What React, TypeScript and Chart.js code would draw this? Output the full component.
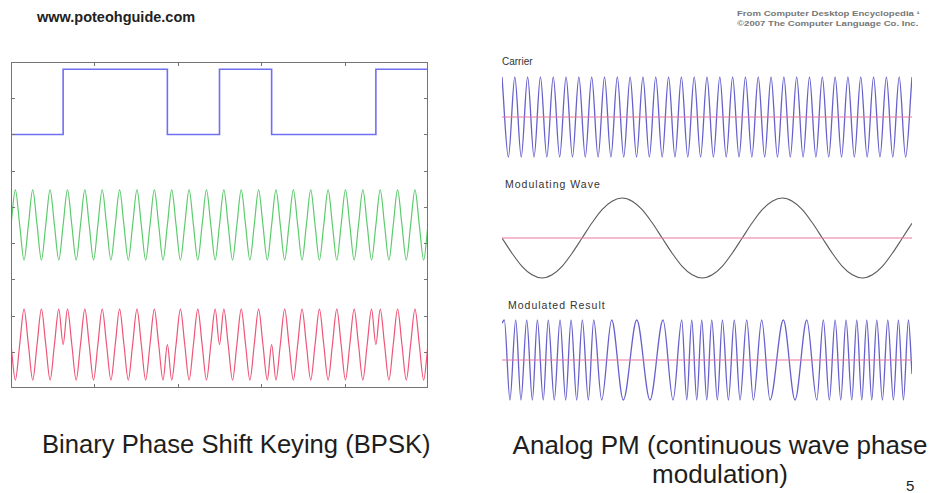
import React, { useEffect, useRef } from "react";
import { Chart, registerables } from "chart.js";

Chart.register(...registerables);

// ---------------- Left panel: BPSK ----------------
const bpskBits = [0, 1, 1, 0, 1, 0, 0, 1];
const squareLevels = [7.0, 8.8]; // y value of a "0" bit and of a "1" bit
const bpskXTicks = [19.2, 38.4, 57.6, 76.8];
const bpskYTicks = [1, 2, 3, 4, 5, 6, 7, 8];

// carrier (green), sampled every quarter period
const greenCarrier = [
  4.5, 5.47, 4.5, 3.53, 4.5, 5.47, 4.5, 3.53,
  4.5, 5.47, 4.5, 3.53, 4.5, 5.47, 4.5, 3.53,
  4.5, 5.47, 4.5, 3.53, 4.5, 5.47, 4.5, 3.53,
  4.5, 5.47, 4.5, 3.53, 4.5, 5.47, 4.5, 3.53,
  4.5, 5.47, 4.5, 3.53, 4.5, 5.47, 4.5, 3.53,
  4.5, 5.47, 4.5, 3.53, 4.5, 5.47, 4.5, 3.53,
  4.5, 5.47, 4.5, 3.53, 4.5, 5.47, 4.5, 3.53,
  4.5, 5.47, 4.5, 3.53, 4.5, 5.47, 4.5, 3.53,
  4.5, 5.47, 4.5, 3.53, 4.5, 5.47, 4.5, 3.53,
  4.5, 5.47, 4.5, 3.53, 4.5, 5.47, 4.5, 3.53,
  4.5, 5.47, 4.5, 3.53, 4.5, 5.47, 4.5, 3.53,
  4.5, 5.47, 4.5, 3.53, 4.5, 5.47, 4.5, 3.53,
  4.5,
];

// BPSK signal (red), sampled every quarter period
const bpskSignal = [
  1.2, 0.22, 1.2, 2.18, 1.2, 0.22, 1.2, 2.18, 1.2, 0.22, 1.2, 2.18,
  1.2, 2.18, 1.2, 0.22, 1.2, 2.18, 1.2, 0.22, 1.2, 2.18, 1.2, 0.22,
  1.2, 2.18, 1.2, 0.22, 1.2, 2.18, 1.2, 0.22, 1.2, 2.18, 1.2, 0.22,
  1.2, 0.22, 1.2, 2.18, 1.2, 0.22, 1.2, 2.18, 1.2, 0.22, 1.2, 2.18,
  1.2, 2.18, 1.2, 0.22, 1.2, 2.18, 1.2, 0.22, 1.2, 2.18, 1.2, 0.22,
  1.2, 0.22, 1.2, 2.18, 1.2, 0.22, 1.2, 2.18, 1.2, 0.22, 1.2, 2.18,
  1.2, 0.22, 1.2, 2.18, 1.2, 0.22, 1.2, 2.18, 1.2, 0.22, 1.2, 2.18,
  1.2, 2.18, 1.2, 0.22, 1.2, 2.18, 1.2, 0.22, 1.2, 2.18, 1.2, 0.22,
  1.2,
];

// ---------------- Right panel: Analog PM ----------------
// carrier extrema, every half period (32 periods)
const pmCarrier = [
  1, -1, 1, -1, 1, -1, 1, -1, 1, -1, 1, -1, 1, -1, 1, -1,
  1, -1, 1, -1, 1, -1, 1, -1, 1, -1, 1, -1, 1, -1, 1, -1,
  1, -1, 1, -1, 1, -1, 1, -1, 1, -1, 1, -1, 1, -1, 1, -1,
  1, -1, 1, -1, 1, -1, 1, -1, 1, -1, 1, -1, 1, -1, 1, -1,
  1,
];

// modulating wave (time in carrier periods)
const modTime = [
  0, 0.78, 1.56, 2.34, 3.13, 3.91, 4.69, 5.47, 6.25, 7.03, 7.81, 8.59, 9.38, 10.16,
  10.94, 11.72, 12.5, 13.28, 14.06, 14.84, 15.63, 16.41, 17.19, 17.97, 18.75, 19.53,
  20.31, 21.09, 21.88, 22.66, 23.44, 24.22, 25, 25.78, 26.56, 27.34, 28.13, 28.91,
  29.69, 30.47, 31.25, 32,
];
const modValue = [
  0, -0.38, -0.71, -0.92, -1, -0.92, -0.71, -0.38, 0, 0.38, 0.71, 0.92, 1, 0.92,
  0.71, 0.38, 0, -0.38, -0.71, -0.92, -1, -0.92, -0.71, -0.38, 0, 0.38,
  0.71, 0.92, 1, 0.92, 0.71, 0.38, 0, -0.38, -0.71, -0.92, -1, -0.92,
  -0.71, -0.38, 0, 0.37,
];

// modulated result: start, extrema, end (time in carrier periods)
const pmTime = [
  0, 0.18, 0.62, 1.07, 1.48, 1.93, 2.37, 2.76, 3.22, 3.61, 4.08, 4.53, 4.97, 5.39,
  5.83, 6.27, 6.74, 7.16, 7.78, 8.56, 9.47, 10.52, 11.55, 12.57, 13.35, 14.03, 14.42,
  14.81, 15.2, 15.59, 15.98, 16.37, 16.81, 17.2, 17.67, 18.13, 18.58, 19.1, 19.62,
  20.27, 20.92, 21.96, 22.87, 23.79, 24.57, 25.08, 25.55, 26.0, 26.44, 26.85, 27.3,
  27.69, 28.08, 28.47, 28.86, 29.25, 29.69, 30.11, 30.55, 30.94, 31.33, 31.72, 32,
];
const pmValue = [
  0.92, 1, -1, 1, -1, 1, -1, 1, -1, 1, -1, 1, -1, 1,
  -1, 1, -1, 1, -1, 1, -1, 1, -1, 1, -1, 1, -1,
  1, -1, 1, -1, 1, -1, 1, -1, 1, -1, 1, -1,
  1, -1, 1, -1, 1, -1, 1, -1, 1, -1, 1, -1,
  1, -1, 1, -1, 1, -1, 1, -1, 1, -1, 1, -0.35,
];

// ---------------- styling ----------------
const SQUARE_COLOR = "#6f6ff2";
const GREEN_COLOR = "#5ccb6c";
const RED_COLOR = "#ee5577";
const FRAME_COLOR = "#747474";
const PM_BLUE = "#6660cc";
const PM_PINK = "#e8789c";
const MOD_GREY = "#5a5a5a";

const frameTicksPlugin = {
  id: "frameTicks",
  afterDatasetsDraw(chart: any, _args: any, opts: any) {
    if (!opts || !opts.enabled) return;
    const { ctx, chartArea: a, scales } = chart;
    const len = opts.length || 4;
    ctx.save();
    ctx.strokeStyle = opts.color;
    ctx.lineWidth = 1;
    ctx.strokeRect(a.left + 0.5, a.top + 0.5, a.width - 1, a.height - 1);
    ctx.beginPath();
    for (const v of opts.xTicks) {
      const px = Math.round(scales.x.getPixelForValue(v)) + 0.5;
      ctx.moveTo(px, a.top);
      ctx.lineTo(px, a.top + len);
      ctx.moveTo(px, a.bottom);
      ctx.lineTo(px, a.bottom - len);
    }
    for (const v of opts.yTicks) {
      const py = Math.round(scales.y.getPixelForValue(v)) + 0.5;
      ctx.moveTo(a.left, py);
      ctx.lineTo(a.left + len, py);
      ctx.moveTo(a.right, py);
      ctx.lineTo(a.right - len, py);
    }
    ctx.stroke();
    ctx.restore();
  },
};

function baseOptions(xMin: number, xMax: number, yMin: number, yMax: number, padding: any) {
  return {
    animation: false,
    responsive: false,
    devicePixelRatio: 1,
    events: [],
    layout: { padding },
    plugins: { legend: { display: false }, tooltip: { enabled: false }, title: { display: false } },
    elements: { point: { radius: 0 } },
    scales: {
      x: { type: "linear", display: false, min: xMin, max: xMax },
      y: { type: "linear", display: false, min: yMin, max: yMax },
    },
  } as any;
}

function bpskConfig() {
  const samplesPerBit = (greenCarrier.length - 1) / bpskBits.length;
  const xMax = greenCarrier.length - 1;
  const square = bpskBits.map((b, i) => ({ x: i * samplesPerBit, y: squareLevels[b] }));
  square.push({ x: xMax, y: squareLevels[bpskBits[bpskBits.length - 1]] });
  const green = greenCarrier.map((y, i) => ({ x: i, y }));
  const red = bpskSignal.map((y, i) => ({ x: i, y }));
  const opts = baseOptions(0, xMax, 0, 9, { left: 11, top: 12, right: 12, bottom: 12 });
  opts.plugins.frameTicks = {
    enabled: true,
    color: FRAME_COLOR,
    xTicks: bpskXTicks,
    yTicks: bpskYTicks,
    length: 4,
  };
  return {
    type: "line",
    data: {
      datasets: [
        { data: square, borderColor: SQUARE_COLOR, borderWidth: 1.6, stepped: true, fill: false },
        { data: green, borderColor: GREEN_COLOR, borderWidth: 1.2, cubicInterpolationMode: "monotone", fill: false },
        { data: red, borderColor: RED_COLOR, borderWidth: 1.2, cubicInterpolationMode: "monotone", fill: false },
      ],
    },
    options: opts,
    plugins: [frameTicksPlugin],
  } as any;
}

function waveConfig(points: { x: number; y: number }[], color: string, width: number) {
  const pad = { left: 10, right: 10, top: 5, bottom: 5 };
  return {
    type: "line",
    data: {
      datasets: [
        {
          data: [
            { x: 0, y: 0 },
            { x: 32, y: 0 },
          ],
          borderColor: PM_PINK,
          borderWidth: 1.2,
          fill: false,
        },
        { data: points, borderColor: color, borderWidth: width, cubicInterpolationMode: "monotone", fill: false },
      ],
    },
    options: baseOptions(0, 32, -1.15, 1.15, pad),
  } as any;
}

function carrierConfig() {
  const step = 32 / (pmCarrier.length - 1);
  return waveConfig(pmCarrier.map((y, i) => ({ x: i * step, y })), PM_BLUE, 1.3);
}
function modulatingConfig() {
  return waveConfig(modTime.map((x, i) => ({ x, y: modValue[i] })), MOD_GREY, 1.1);
}
function modulatedConfig() {
  return waveConfig(pmTime.map((x, i) => ({ x, y: pmValue[i] })), PM_BLUE, 1.3);
}

function ChartBox(props: { left: number; top: number; width: number; height: number; make: () => any }) {
  const ref = useRef<HTMLCanvasElement>(null);
  useEffect(() => {
    const chart = new Chart(ref.current as HTMLCanvasElement, props.make());
    return () => chart.destroy();
  }, []);
  return (
    <canvas
      ref={ref}
      width={props.width}
      height={props.height}
      style={{
        position: "absolute",
        left: props.left,
        top: props.top,
        width: props.width,
        height: props.height,
        display: "block",
      }}
    />
  );
}

const SANS = '"Liberation Sans", Arial, Helvetica, sans-serif';
const panelLabel = { position: "absolute", color: "#333", whiteSpace: "nowrap" } as const;

export default function App() {
  return (
    <div
      style={{
        position: "fixed",
        left: 0,
        top: 0,
        width: 935,
        height: 493,
        background: "#ffffff",
        overflow: "hidden",
        fontFamily: SANS,
        color: "#1e1e1e",
      }}
    >
      <div
        style={{
          position: "absolute",
          left: 37,
          top: 10,
          fontSize: 14.5,
          lineHeight: "15px",
          fontWeight: "bold",
          color: "#222",
          whiteSpace: "nowrap",
        }}
      >
        www.poteohguide.com
      </div>
      <div
        style={{
          position: "absolute",
          left: 737,
          top: 9,
          fontSize: 7,
          lineHeight: "10px",
          fontWeight: "bold",
          color: "#777",
          whiteSpace: "nowrap",
          transform: "scaleX(1.37)",
          transformOrigin: "left top",
        }}
      >
        <div>From Computer Desktop Encyclopedia ¹</div>
        <div>©2007 The Computer Language Co. Inc.</div>
      </div>

      <ChartBox left={0} top={50} width={440} height={350} make={bpskConfig} />

      <div style={{ ...panelLabel, left: 502, top: 56, fontSize: 10 }}>Carrier</div>
      <ChartBox left={492} top={66} width={430} height={102} make={carrierConfig} />

      <div style={{ ...panelLabel, left: 505, top: 178, fontSize: 10.5, letterSpacing: 1 }}>Modulating Wave</div>
      <ChartBox left={492} top={187} width={430} height={102} make={modulatingConfig} />

      <div style={{ ...panelLabel, left: 508, top: 299, fontSize: 10.5, letterSpacing: 1 }}>Modulated Result</div>
      <ChartBox left={492} top={309} width={430} height={102} make={modulatedConfig} />

      <div
        style={{
          position: "absolute",
          left: 42,
          top: 431,
          fontSize: 26,
          lineHeight: "26px",
          whiteSpace: "nowrap",
          transform: "scaleX(0.985)",
          transformOrigin: "left top",
        }}
      >
        Binary Phase Shift Keying (BPSK)
      </div>
      <div
        style={{
          position: "absolute",
          left: 508,
          top: 431,
          width: 424,
          fontSize: 26,
          lineHeight: "29px",
          textAlign: "center",
          whiteSpace: "nowrap",
        }}
      >
        <div>Analog PM (continuous wave phase</div>
        <div>modulation)</div>
      </div>
      <div style={{ position: "absolute", left: 906, top: 478, fontSize: 15, lineHeight: "15px" }}>5</div>
    </div>
  );
}
